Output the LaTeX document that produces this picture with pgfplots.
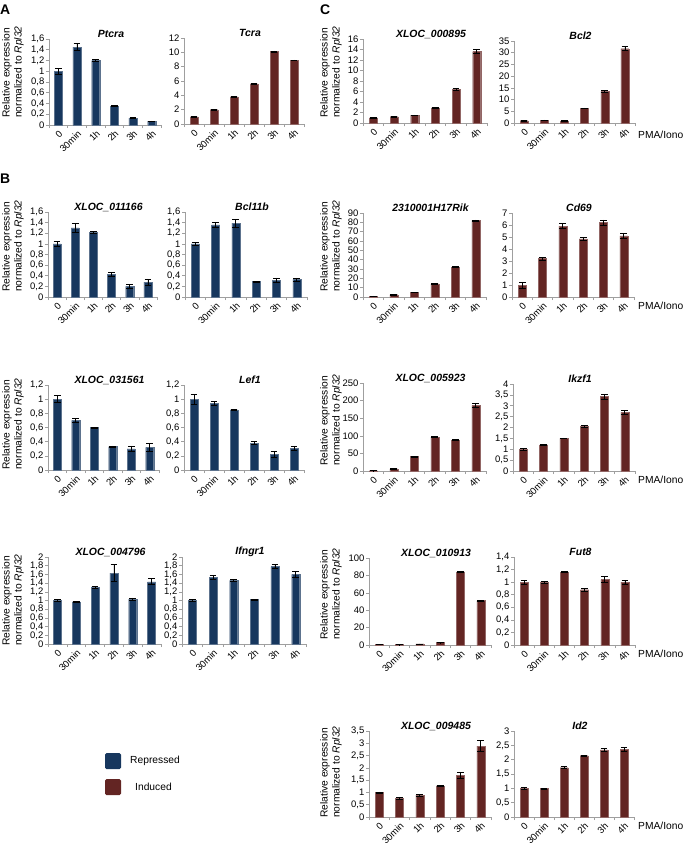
\documentclass[border=0pt]{standalone}
\usepackage{pgfplots}
\pgfplotsset{compat=1.18}
\usepackage{fontspec}
\setmainfont{Liberation Sans}
\definecolor{rep}{RGB}{23,55,94}
\definecolor{ind}{RGB}{99,37,35}
\pgfplotsset{
 panel/.style={
  scale only axis, anchor=south west,
  xmin=-0.5, xmax=5.5, ymin=0,
  axis x line=bottom, axis y line=left,
  axis line style={draw=gray!75, line width=0.6pt, -},
  xtick={0,...,5},
  xticklabels={0,30min,1h,2h,3h,4h},
  minor xtick={-0.5,0.5,1.5,2.5,3.5,4.5,5.5},
  major x tick style={draw=none},
  minor x tick style={draw=gray!75, line width=0.6pt},
  y tick style={draw=gray!75, line width=0.6pt},
  tick align=outside,
  major tick length=3bp, minor tick length=3bp,
  tick label style={font=\fontsize{9.5}{10}\selectfont},
  xticklabel style={rotate=45, anchor=north east, inner sep=1bp},
  yticklabel style={inner sep=1.5bp, /pgf/number format/use comma, /pgf/number format/assume math mode=true},
  clip=false,
 },
 bars/.style={ybar, bar width=8bp, fill=#1, draw=#1!70!white, line width=0.3pt,
  error bars/.cd, y dir=both, y explicit,
  error bar style={black, line width=0.7pt},
  error mark options={black, rotate=90, mark size=3.4bp, line width=0.7pt}},
}
\tikzset{
 ttl/.style={font=\bfseries\itshape\fontsize{10.5}{12}\selectfont, inner sep=0pt},
 ylab/.style={rotate=90, align=left, font=\fontsize{10.3}{12}\selectfont, inner sep=0pt, anchor=north west},
 pma/.style={font=\fontsize{10.3}{12}\selectfont, inner sep=0pt, anchor=west},
}
% #1 x-left, #2 y-bottom, #3 width, #4 height, #5 ymax, #6 yticks, #7 colour, #8 title, #9 data
\newcommand{\panel}[9]{%
 \begin{axis}[panel, at={(#1bp,-#2bp)}, width=#3bp, height=#4bp, ymax=#5, ytick={#6}]
 \addplot[bars=#7] coordinates {#9};
 \end{axis}
 \node[ttl] at ({#1bp+0.5*#3bp+6bp},{-#2bp+#4bp+5bp}) {#8};
}
\newcommand{\ylab}[2]{\node[ylab] at (#1bp,-#2bp) {Relative expression\\normalized to \textit{Rpl32}};}
\begin{document}
\begin{tikzpicture}
\path[use as bounding box] (0,0) rectangle (685bp,-845bp);
% panel letters
\node[font=\bfseries\fontsize{14}{14}\selectfont, anchor=base west, inner sep=0pt] at (0bp,-14bp) {A};
\node[font=\bfseries\fontsize{14}{14}\selectfont, anchor=base west, inner sep=0pt] at (0bp,-183bp) {B};
\node[font=\bfseries\fontsize{14}{14}\selectfont, anchor=base west, inner sep=0pt] at (320bp,-14bp) {C};

% ---------- A ----------
\panel{49}{125}{112}{86}{1.6}{0,0.2,0.4,0.6,0.8,1,1.2,1.4,1.6}{rep}{Ptcra}
 {(0,1.0) +- (0,0.05) (1,1.45) +- (0,0.07) (2,1.2) +- (0,0.015) (3,0.35) +- (0,0.01) (4,0.13) +- (0,0.01) (5,0.07) +- (0,0.005)}
\panel{184}{124}{120}{86}{12}{0,2,4,6,8,10,12}{ind}{Tcra}
 {(0,1.0) +- (0,0.05) (1,2.0) +- (0,0.05) (2,3.8) +- (0,0.1) (3,5.6) +- (0,0.1) (4,10.1) +- (0,0.1) (5,8.9) +- (0,0.05)}
\ylab{2}{118}

% ---------- B ----------
\panel{48}{297}{109}{85}{1.6}{0,0.2,0.4,0.6,0.8,1,1.2,1.4,1.6}{rep}{XLOC\_011166}
 {(0,1.0) +- (0,0.04) (1,1.3) +- (0,0.09) (2,1.22) +- (0,0.02) (3,0.43) +- (0,0.04) (4,0.2) +- (0,0.03) (5,0.28) +- (0,0.06)}
\panel{185}{297}{122}{85}{1.6}{0,0.2,0.4,0.6,0.8,1,1.2,1.4,1.6}{rep}{Bcl11b}
 {(0,1.0) +- (0,0.03) (1,1.36) +- (0,0.05) (2,1.39) +- (0,0.07) (3,0.29) +- (0,0.01) (4,0.32) +- (0,0.04) (5,0.33) +- (0,0.03)}
\ylab{2}{292}

\panel{48}{470}{111}{85}{1.2}{0,0.2,0.4,0.6,0.8,1,1.2}{rep}{XLOC\_031561}
 {(0,1.0) +- (0,0.05) (1,0.7) +- (0,0.03) (2,0.6) +- (0,0.005) (3,0.33) +- (0,0.01) (4,0.3) +- (0,0.04) (5,0.32) +- (0,0.05)}
\panel{184}{470}{120}{85}{1.2}{0,0.2,0.4,0.6,0.8,1,1.2}{rep}{Lef1}
 {(0,1.0) +- (0,0.07) (1,0.94) +- (0,0.03) (2,0.85) +- (0,0.005) (3,0.38) +- (0,0.02) (4,0.22) +- (0,0.04) (5,0.31) +- (0,0.03)}
\ylab{2}{470}

\panel{48}{644}{113}{87}{2}{0,0.2,0.4,0.6,0.8,1,1.2,1.4,1.6,1.8,2}{rep}{XLOC\_004796}
 {(0,1.0) +- (0,0.02) (1,0.97) +- (0,0.01) (2,1.3) +- (0,0.03) (3,1.63) +- (0,0.19) (4,1.03) +- (0,0.03) (5,1.43) +- (0,0.07)}
\panel{182}{644}{124}{87}{2}{0,0.2,0.4,0.6,0.8,1,1.2,1.4,1.6,1.8,2}{rep}{Ifngr1}
 {(0,1.0) +- (0,0.02) (1,1.53) +- (0,0.04) (2,1.46) +- (0,0.02) (3,1.02) +- (0,0.01) (4,1.78) +- (0,0.04) (5,1.6) +- (0,0.07)}
\ylab{2}{646}

% ---------- C ----------
\panel{363}{123}{124}{84}{16}{0,2,4,6,8,10,12,14,16}{ind}{XLOC\_000895}
 {(0,1.0) +- (0,0.05) (1,1.2) +- (0,0.05) (2,1.5) +- (0,0.05) (3,2.9) +- (0,0.08) (4,6.4) +- (0,0.15) (5,13.6) +- (0,0.4)}
\panel{514}{123}{121}{82}{35}{0,5,10,15,20,25,30,35}{ind}{Bcl2}
 {(0,1.0) +- (0,0.1) (1,1.2) +- (0,0.1) (2,0.9) +- (0,0.1) (3,6.3) +- (0,0.15) (4,13.5) +- (0,0.5) (5,31.7) +- (0,0.9)}
\ylab{320}{118}
\node[pma] at (638bp,-135bp) {PMA/Iono};

\panel{363}{297}{123}{84}{90}{0,10,20,30,40,50,60,70,80,90}{ind}{2310001H17Rik}
 {(0,1.0) +- (0,0.1) (1,2.5) +- (0,0.2) (2,5) +- (0,0.3) (3,14) +- (0,0.4) (4,32) +- (0,0.4) (5,82) +- (0,0.6)}
\panel{512}{297}{122}{84}{7}{0,1,2,3,4,5,6,7}{ind}{Cd69}
 {(0,1.0) +- (0,0.25) (1,3.2) +- (0,0.12) (2,5.9) +- (0,0.2) (3,4.85) +- (0,0.1) (4,6.2) +- (0,0.22) (5,5.1) +- (0,0.18)}
\ylab{320}{292}
\node[pma] at (638bp,-306bp) {PMA/Iono};

\panel{363}{471}{123}{88}{250}{0,50,100,150,200,250}{ind}{XLOC\_005923}
 {(0,1) +- (0,0.2) (1,6) +- (0,0.5) (2,41) +- (0,1) (3,96) +- (0,1.5) (4,88) +- (0,2) (5,186) +- (0,5)}
\panel{513}{471}{122}{87}{4}{0,0.5,1,1.5,2,2.5,3,3.5,4}{ind}{Ikzf1}
 {(0,1.0) +- (0,0.03) (1,1.2) +- (0,0.03) (2,1.5) +- (0,0.02) (3,2.05) +- (0,0.04) (4,3.42) +- (0,0.12) (5,2.7) +- (0,0.1)}
\ylab{320}{466}
\node[pma] at (638bp,-480bp) {PMA/Iono};

\panel{369}{645}{122}{87}{100}{0,20,40,60,80,100}{ind}{XLOC\_010913}
 {(0,0.8) +- (0,0.1) (1,0.5) +- (0,0.1) (2,1.2) +- (0,0.1) (3,2.8) +- (0,0.2) (4,84) +- (0,0.5) (5,51) +- (0,0.3)}
\panel{514}{645}{121}{88}{1.4}{0,0.2,0.4,0.6,0.8,1,1.2,1.4}{ind}{Fut8}
 {(0,1.0) +- (0,0.03) (1,1.0) +- (0,0.02) (2,1.16) +- (0,0.005) (3,0.88) +- (0,0.02) (4,1.04) +- (0,0.05) (5,1.0) +- (0,0.03)}
\ylab{320}{640}
\node[pma] at (638bp,-654bp) {PMA/Iono};

\panel{369}{817}{122}{86}{3.5}{0,0.5,1,1.5,2,2.5,3,3.5}{ind}{XLOC\_009485}
 {(0,1.0) +- (0,0.02) (1,0.76) +- (0,0.06) (2,0.89) +- (0,0.03) (3,1.27) +- (0,0.02) (4,1.7) +- (0,0.11) (5,2.88) +- (0,0.22)}
\panel{514}{817}{120}{86}{3}{0,0.5,1,1.5,2,2.5,3}{ind}{Id2}
 {(0,1.0) +- (0,0.02) (1,0.99) +- (0,0.02) (2,1.72) +- (0,0.03) (3,2.14) +- (0,0.02) (4,2.34) +- (0,0.06) (5,2.37) +- (0,0.07)}
\ylab{320}{818}
\node[pma] at (638bp,-826bp) {PMA/Iono};

% legend
\fill[rep, rounded corners=1.5bp] (105bp,-753bp) rectangle (121bp,-769bp);
\node[pma] at (130bp,-761bp) {Repressed};
\fill[ind, rounded corners=1.5bp] (105bp,-779bp) rectangle (121bp,-795bp);
\node[pma] at (135bp,-787bp) {Induced};
\end{tikzpicture}
\end{document}
